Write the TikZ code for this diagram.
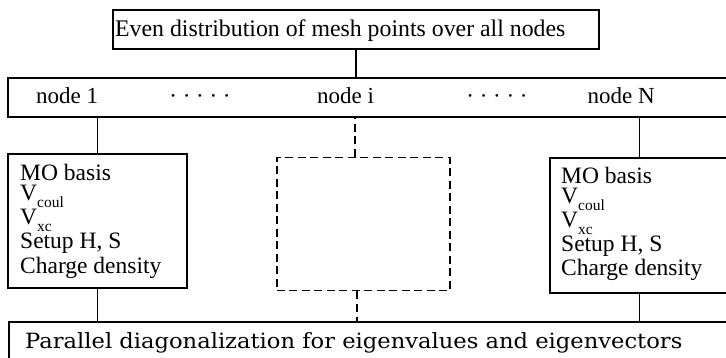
\documentclass[tikz,border=0pt]{standalone}
\usepackage{fontspec}
\setmainfont{Liberation Serif}
\newfontfamily\wideserif{DejaVu Serif}
\usetikzlibrary{calc}

% lowered, smaller index text after a letter
\newcommand{\subtxt}[1]{\raisebox{-6.5pt}{\fontsize{15.5}{15.5}\selectfont #1}}

\begin{document}
\begin{tikzpicture}[x=1pt,y=-1pt,
  box/.style={draw, line width=1.7pt, inner sep=0pt, anchor=north west},
  dbox/.style={box, line width=1.5pt, dash pattern=on 8pt off 4.5pt},
  lbl/.style={inner sep=0pt, anchor=base west, font=\fontsize{23.5}{24}\selectfont},
  link/.style={line width=1.4pt},
  dlink/.style={line width=1.4pt, dash pattern=on 8pt off 4.5pt}]
\useasboundingbox (0,0) rectangle (726,358);
\clip (0,0) rectangle (726,358);

% frames
\node[box, minimum width=486pt, minimum height=39pt] (top) at (112,9) {};
\node[box, minimum width=740pt, minimum height=39pt] (row) at (7,77) {};
\node[box, minimum width=179pt, minimum height=134pt] (lb) at (7,153) {};
\node[dbox, minimum width=173pt, minimum height=133pt] (db) at (276,157) {};
\node[box, minimum width=179pt, minimum height=135pt] (rb) at (549,157) {};
\node[box, minimum width=740pt, minimum height=60pt] (bot) at (8,321) {};

% connectors
\draw[link] (top.south) -- (top.south |- row.north);
\draw[link] (lb.north) -- (lb.north |- row.south);
\draw[link] (lb.south) -- (lb.south |- bot.north);
\draw[link] (rb.north) -- (rb.north |- row.south);
\draw[link] (rb.south) -- (rb.south |- bot.north);
\coordinate (di) at ($(db.north west)+(79,0)$);
\coordinate (dj) at ($(db.south west)+(81,0)$);
\draw[dlink] (di) -- (di |- row.south);
\draw[dlink] (dj) -- (dj |- bot.north);

% texts
\node[lbl, font=\fontsize{23.8}{24}\selectfont] (ttop) at (115,37) {Even distribution of mesh points over all nodes};
\node[lbl, font=\fontsize{23}{24}\selectfont] (n1) at (36,104) {node 1};
\node[lbl, font=\fontsize{23}{24}\selectfont, anchor=base] (d1) at (200,104) {· · · · ·};
\node[lbl, font=\fontsize{23}{24}\selectfont] (ni) at (317,104) {node i};
\node[lbl, font=\fontsize{23}{24}\selectfont, anchor=base] (d2) at (497,104) {· · · · ·};
\node[lbl, font=\fontsize{23}{24}\selectfont, anchor=base east] (nn) at (655,104) {node N};

\node[lbl] (l1) at (20,181) {MO basis};
\node[lbl] (l2) at (20,201) {V\subtxt{coul}};
\node[lbl] (l3) at (20,225) {V\subtxt{xc}};
\node[lbl] (l4) at (20,249) {Setup H, S};
\node[lbl] (l5) at (20,273) {Charge density};

\node[lbl] (r1) at (561,184) {MO basis};
\node[lbl] (r2) at (561,204) {V\subtxt{coul}};
\node[lbl] (r3) at (561,228) {V\subtxt{xc}};
\node[lbl] (r4) at (561,252) {Setup H, S};
\node[lbl] (r5) at (561,276) {Charge density};

\node[lbl, font=\wideserif\fontsize{21}{22}\selectfont] (tbot) at (25,348) {\scalebox{1.077}[1]{Parallel diagonalization for eigenvalues and eigenvectors}};
\end{tikzpicture}
\end{document}
